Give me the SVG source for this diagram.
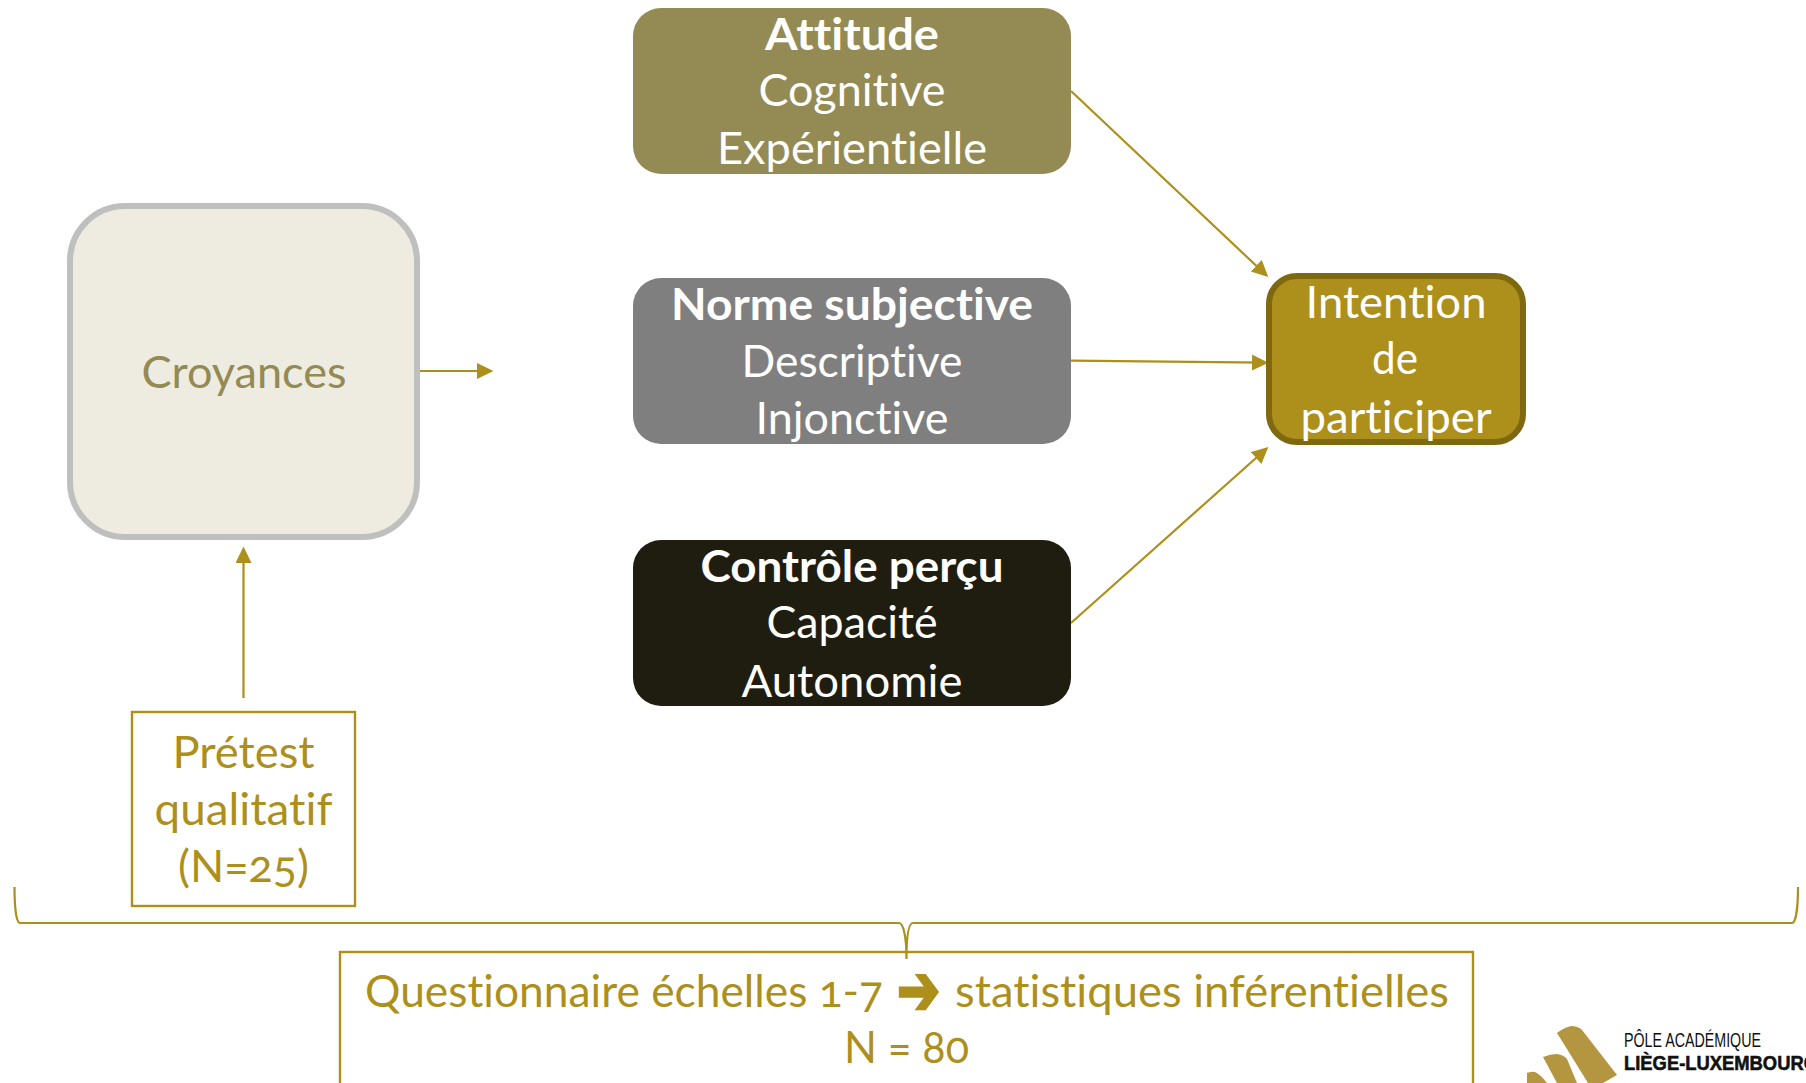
<svg xmlns="http://www.w3.org/2000/svg" width="1806" height="1083" viewBox="0 0 1806 1083">
<style>
text{font-family:"Lato","Open Sans","Liberation Sans",sans-serif;font-size:44px;text-anchor:middle;font-variant-numeric:oldstyle-nums;font-variant-ligatures:none}
.w{fill:#fff}.b{font-weight:700}
.g{fill:#ad8f1c}
.c{fill:none;stroke:#ad8f1c;stroke-width:2.200}
.box{fill:none;stroke:#ad8f1c;stroke-width:2.400}
.logo{fill:#b59640}
.lt{font-family:"Liberation Sans Narrow","Liberation Sans",sans-serif;text-anchor:start;font-size:21px;fill:#111;font-variant-numeric:normal}
</style>
<defs><marker id="a" markerUnits="userSpaceOnUse" markerWidth="18" markerHeight="17" refX="12" refY="8" orient="auto"><path d="M0 0L16.500 8L0 16z" fill="#ad8f1c"/></marker></defs>
<rect width="1806" height="1083" fill="#fff"/>
<g id="connectors">
<line class="c" x1="415" y1="371" x2="489" y2="371" marker-end="url(#a)"/>
<line class="c" x1="243.500" y1="698" x2="243.500" y2="551" marker-end="url(#a)"/>
<line class="c" x1="1071" y1="91" x2="1265" y2="274" marker-end="url(#a)"/>
<line class="c" x1="1071" y1="360.700" x2="1264" y2="362.700" marker-end="url(#a)"/>
<line class="c" x1="1071" y1="623" x2="1265" y2="450" marker-end="url(#a)"/>
<path class="c" d="M14.500 887C14.500 906 16 923 20 923L899 923C904 923 906.500 940 906.500 959C906.500 940 908 923 913 923L1792 923C1796 923 1798 906 1798 887"/>
</g>
<g id="attitude"><rect x="633" y="8" width="438" height="166" rx="28" fill="#948a54"/>
<text class="w b" x="852" y="50" textLength="174" lengthAdjust="spacingAndGlyphs">Attitude</text>
<text class="w" x="852" y="106" textLength="187" lengthAdjust="spacingAndGlyphs">Cognitive</text>
<text class="w" x="852" y="164" textLength="270" lengthAdjust="spacingAndGlyphs">Expérientielle</text></g>
<g id="norme"><rect x="633" y="278" width="438" height="166" rx="28" fill="#7f7f7f"/>
<text class="w b" x="852" y="320" textLength="362" lengthAdjust="spacingAndGlyphs">Norme subjective</text>
<text class="w" x="852" y="376.500" textLength="221" lengthAdjust="spacingAndGlyphs">Descriptive</text>
<text class="w" x="852" y="434" textLength="193" lengthAdjust="spacingAndGlyphs">Injonctive</text></g>
<g id="controle"><rect x="633" y="540" width="438" height="166" rx="28" fill="#1f1d10"/>
<text class="w b" x="852" y="582" textLength="303" lengthAdjust="spacingAndGlyphs">Contrôle perçu</text>
<text class="w" x="852" y="638" textLength="171" lengthAdjust="spacingAndGlyphs">Capacité</text>
<text class="w" x="852" y="697" textLength="221" lengthAdjust="spacingAndGlyphs">Autonomie</text></g>
<g id="intention"><rect x="1269" y="276" width="254" height="166" rx="28" fill="#ad8f1c" stroke="#7f6910" stroke-width="6"/>
<text class="w" x="1396" y="318" textLength="181" lengthAdjust="spacingAndGlyphs">Intention</text>
<text class="w" x="1395" y="374" textLength="46" lengthAdjust="spacingAndGlyphs">de</text>
<text class="w" x="1396" y="433" textLength="191" lengthAdjust="spacingAndGlyphs">participer</text></g>
<g id="croyances"><rect x="70" y="206" width="347" height="331" rx="55" fill="#eeece1" stroke="#bfbfbf" stroke-width="6"/>
<text x="244" y="388" fill="#948a54" textLength="205" lengthAdjust="spacingAndGlyphs">Croyances</text></g>
<g id="pretest"><rect class="box" x="132" y="712" width="223" height="194"/>
<text class="g" x="243.500" y="768" textLength="142" lengthAdjust="spacingAndGlyphs">Prétest</text>
<text class="g" x="243.500" y="825" textLength="178" lengthAdjust="spacingAndGlyphs">qualitatif</text>
<text class="g" x="243.500" y="882" textLength="131" lengthAdjust="spacingAndGlyphs">(N=25)</text></g>
<g id="questionnaire"><rect class="box" x="340" y="952" width="1133" height="160"/>
<text class="g" x="624" y="1007" textLength="518" lengthAdjust="spacingAndGlyphs">Questionnaire échelles 1-7</text>
<text class="g" x="918.500" y="1014" style="font-family:'DejaVu Sans',sans-serif;font-weight:700;font-size:70px;stroke:#ad8f1c;stroke-width:3" textLength="43" lengthAdjust="spacingAndGlyphs">➔</text>
<text class="g" x="1202" y="1007" textLength="494" lengthAdjust="spacingAndGlyphs">statistiques inférentielles</text>
<text class="g" x="906.500" y="1063" textLength="125" lengthAdjust="spacingAndGlyphs">N = 80</text></g>
<g id="logo">
<path class="logo" d="M1557 1033Q1563 1028 1571 1026Q1578 1026 1582 1030L1617 1075L1603 1083L1588 1083Z"/>
<path class="logo" d="M1543 1057Q1550 1054 1557 1054Q1564 1055 1567 1059L1577 1083L1557 1083Z"/>
<path class="logo" d="M1527 1073Q1532 1071 1535 1072Q1540 1074 1547 1083L1527 1083Z"/>
<text class="lt" x="1624" y="1047" textLength="137" lengthAdjust="spacingAndGlyphs">PÔLE ACADÉMIQUE</text>
<text class="lt" x="1624" y="1070" style="font-weight:700;stroke:#111;stroke-width:.6" textLength="194" lengthAdjust="spacingAndGlyphs">LIÈGE-LUXEMBOURG</text>
</g>
</svg>
